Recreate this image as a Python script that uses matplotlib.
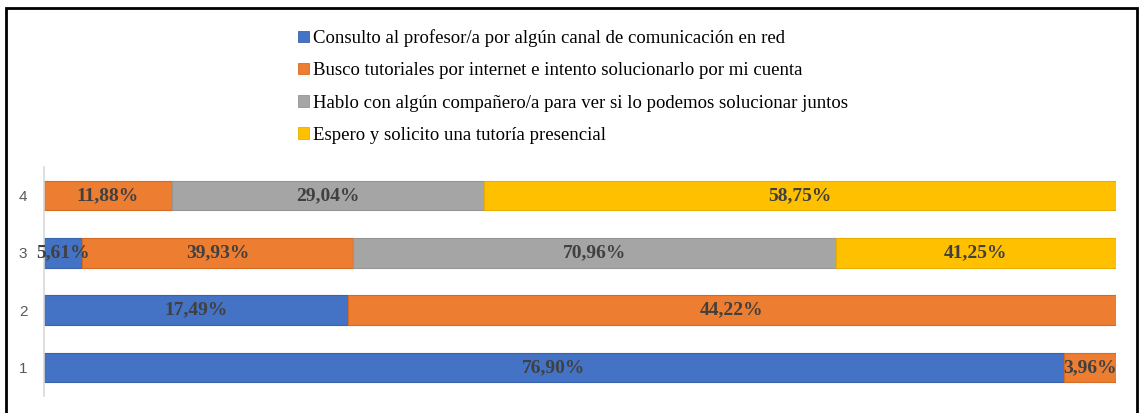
import numpy as np
import matplotlib.pyplot as plt
from matplotlib.patches import Rectangle, Patch

categorias = ['1', '2', '3', '4']
series = [
    'Consulto al profesor/a por algún canal de comunicación en red',
    'Busco tutoriales por internet e intento solucionarlo por mi cuenta',
    'Hablo con algún compañero/a para ver si lo podemos solucionar juntos',
    'Espero y solicito una tutoría presencial',
]
consulto = [76.90, 17.49, 5.61, 0.0]
busco = [3.96, 44.22, 39.93, 11.88]
hablo = [0.0, 0.0, 70.96, 29.04]
espero = [0.0, 0.0, 41.25, 58.75]

colores = ['#4472C4', '#ED7D31', '#A5A5A5', '#FFC000']
bordes = ['#3A63AD', '#D56A22', '#959595', '#E8AF00']

valores = np.array([consulto, busco, hablo, espero])
totales = valores.sum(axis=0)
y = np.arange(1, len(categorias) + 1)

fig = plt.figure(figsize=(11.4, 4.13), dpi=100)
ax = fig.add_axes([0.0386, 0.041, 0.9404, 0.555])

izq = np.zeros(len(categorias))
for i in range(len(series)):
    ancho = valores[i] / totales * 100
    ax.barh(y, ancho, left=izq, height=0.52, color=colores[i],
            edgecolor=bordes[i], linewidth=0.8)
    for j in range(len(categorias)):
        if valores[i][j] > 0:
            txt = f'{valores[i][j]:.2f}%'.replace('.', ',')
            ax.text(izq[j] + ancho[j] / 2, y[j], txt, ha='center', va='center',
                    fontsize=14, fontweight='bold', family='Liberation Serif',
                    color='#404040')
    izq += ancho

ax.set_xlim(0, 100)
ax.set_ylim(0.5, 4.5)
ax.set_yticks(y)
ax.set_yticklabels(categorias, fontsize=11, color='#595959', family='Liberation Sans')
ax.tick_params(axis='y', length=0, pad=12)
ax.set_xticks([])
for s in ['top', 'right', 'bottom']:
    ax.spines[s].set_visible(False)
ax.spines['left'].set_color('#D9D9D9')
ax.spines['left'].set_linewidth(1.2)

handles = [Patch(facecolor=c, edgecolor=b, linewidth=0.6) for c, b in zip(colores, bordes)]
fig.legend(handles, series, loc='upper left', bbox_to_anchor=(0.247, 0.97),
           frameon=False, ncol=1, handlelength=0.55, handleheight=0.55,
           handletextpad=0.25, labelspacing=0.81,
           prop={'family': 'Liberation Serif', 'size': 13.5})

# marco exterior
fig.patches.append(Rectangle((6 / 1140, -0.02), 1131 / 1140, 1 - 8 / 413 + 0.02,
                             transform=fig.transFigure, fill=False,
                             edgecolor='black', linewidth=2))

fig.savefig('out.png', dpi=100)
